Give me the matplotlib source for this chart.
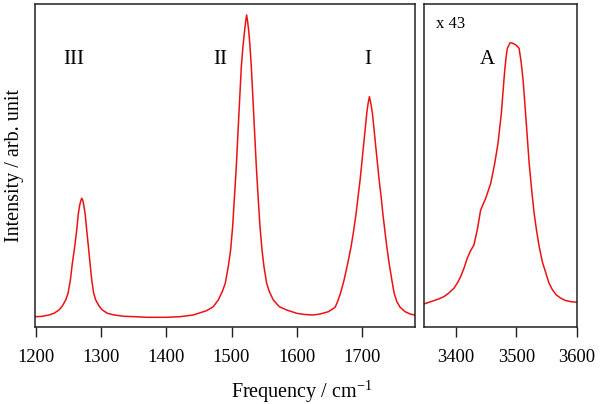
import matplotlib
matplotlib.use("Agg")
import matplotlib.pyplot as plt

plt.rcParams['font.family'] = ['Liberation Serif', 'DejaVu Serif']
plt.rcParams['mathtext.fontset'] = 'custom'
plt.rcParams['mathtext.rm'] = 'Liberation Serif'

# Left panel: amide region spectrum (frequency cm^-1, intensity arb.)
freq_left = [1200, 1210.2, 1220.4, 1228.1, 1235.8, 1240.9, 1246.0, 1249.6, 1253.2,
             1256.2, 1259.8, 1262.9, 1265.4, 1267.5, 1269.5, 1270.5, 1272.1,
             1273.6, 1275.7, 1278.2, 1280.8, 1283.3, 1285.9, 1288.9, 1292.0,
             1297.1, 1302.2, 1309.9, 1320.1, 1335.5, 1353.4, 1370, 1400,
             1420.9, 1441.3, 1461.8, 1472.0, 1479.7, 1485.8, 1490.4, 1495.0,
             1498.6, 1501.7, 1504.2, 1507.3, 1509.8, 1512.4, 1515.0, 1517.5,
             1519.6, 1521.6, 1523.1, 1524.7, 1526.7, 1528.3, 1530.3, 1532.9,
             1535.4, 1538.0, 1541.0, 1543.6, 1546.7, 1549.7, 1553.8, 1557.9,
             1564.0, 1573.2, 1584.5, 1599.8, 1612, 1625, 1635.6, 1648.4,
             1658.6, 1662.2, 1667.0, 1672.4, 1678.0, 1683.1, 1687.2, 1690.8,
             1693.8, 1696.9, 1699.5, 1702.0, 1704.6, 1707.1, 1709.2, 1711.2,
             1713.3, 1715.8, 1718.4, 1720.9, 1723.5, 1726.1, 1729.1, 1731.7,
             1734.7, 1737.8, 1741.4, 1745.5, 1749.1, 1753.2, 1758.3, 1765.9,
             1773.6, 1780.2]
int_left = [10.3, 10.7, 12, 13.7, 17, 21, 27, 33.7, 47,
            63.7, 80.3, 97, 113.7, 122, 127, 128.7, 127,
            122, 113.7, 97, 80.3, 63.7, 47, 33.7, 27,
            21, 17, 13.7, 12, 10.7, 10.3, 9.7, 9.7,
            10.3, 12, 16.3, 20.3, 27, 35.3, 43.7, 60.3,
            77, 100.3, 127, 160.3, 193.7, 227, 260.3, 280.3,
            293.7, 305.3, 312, 305.3, 293.7, 280.3, 260.3, 227,
            193.7, 160.3, 127, 100.3, 77, 60.3, 43.7, 35.3,
            27, 20.3, 17, 13.7, 12.5, 12, 13, 15.3,
            19.7, 25, 34, 47, 63.7, 80.3, 97, 113.7,
            130.3, 147, 163.7, 180.3, 197, 213.7, 223.7, 230.3,
            223.7, 213.7, 197, 180.3, 163.7, 147, 130.3, 113.7,
            97, 80.3, 63.7, 47, 33.7, 25.3, 19.7, 15.3,
            13, 12]

# Right panel: OH stretch region (scaled x 43)
freq_right = [3347.6, 3355.0, 3364.1, 3372.0, 3380.7, 3389.0, 3397.2, 3403.0,
              3408.3, 3414.0, 3419.2, 3424.5, 3430.2, 3435.7, 3441.3, 3449.6,
              3457.9, 3464.5, 3469.9, 3475.4, 3478.5, 3481.0, 3483.3, 3485.3,
              3489.8, 3493.0, 3496.4, 3500.5, 3504.6, 3508.0, 3511.2, 3515.7,
              3521.2, 3525.5, 3529.4, 3533.5, 3537.7, 3543.0, 3548.8, 3553.5,
              3559.7, 3566.0, 3573.6, 3581.0, 3590.1, 3600.5]
int_right = [23, 24.5, 26.3, 28.0, 30.3, 34.0, 38.7, 44.0,
             50.3, 59.0, 68.7, 76.0, 82, 97, 117, 128.7,
             143.7, 163.7, 183.7, 213.7, 238, 257, 270, 278.7,
             284.3, 284.0, 283, 281.5, 278.7, 265, 247, 210.3,
             163.7, 136, 113.7, 96, 80.3, 65, 53.7, 44.5,
             37, 32, 28.7, 26.5, 25.3, 24.7]

ticks_left = [1200, 1300, 1400, 1500, 1600, 1700]
ticks_right = [3400, 3500, 3600]
peak_labels = ["III", "II", "I"]
peak_pos = [1258, 1483, 1709]
scale_text = "x 43"

W, H = 600, 404
fig = plt.figure(figsize=(W / 100, H / 100), dpi=100)

def frac_box(x0, x1, y0, y1):
    return [x0 / W, 1 - y1 / H, (x1 - x0) / W, (y1 - y0) / H]

ax1 = fig.add_axes(frac_box(35, 415, 4, 327))
ax2 = fig.add_axes(frac_box(424, 577, 4, 327))

red = '#ee1111'
ax1.plot(freq_left, int_left, color=red, lw=1.1)
ax2.plot(freq_right, int_right, color=red, lw=1.1)

ax1.set_xlim(1199, 1781)
ax2.set_xlim(3348, 3600)
for ax in (ax1, ax2):
    ax.set_ylim(0, 323)
    ax.set_yticks([])
    for s in ax.spines.values():
        s.set_linewidth(1.1)
        s.set_color('#222222')
    ax.tick_params(axis='x', direction='out', length=7.5, width=1.0,
                   labelsize=13.3, pad=8, color='#222222')
ax1.set_xticks(ticks_left)
ax2.set_xticks(ticks_right)

for lab, x in zip(peak_labels, peak_pos):
    ax1.text(x, 268, lab, ha='center', va='center', fontsize=15)
ax2.text(3452, 267, "A", ha='center', va='center', fontsize=15)
ax2.text(3368, 303, scale_text, ha='left', va='center', fontsize=12)

fig.text(302 / W, 1 - 398 / H, "Frequency / cm$\\mathregular{^{-1}}$",
         ha='center', va='baseline', fontsize=14.5)
fig.text(15 / W, 1 - 165.5 / H, "Intensity / arb. unit", rotation=90,
         ha='center', va='center', fontsize=14.5)

fig.savefig("out.png", dpi=100)
